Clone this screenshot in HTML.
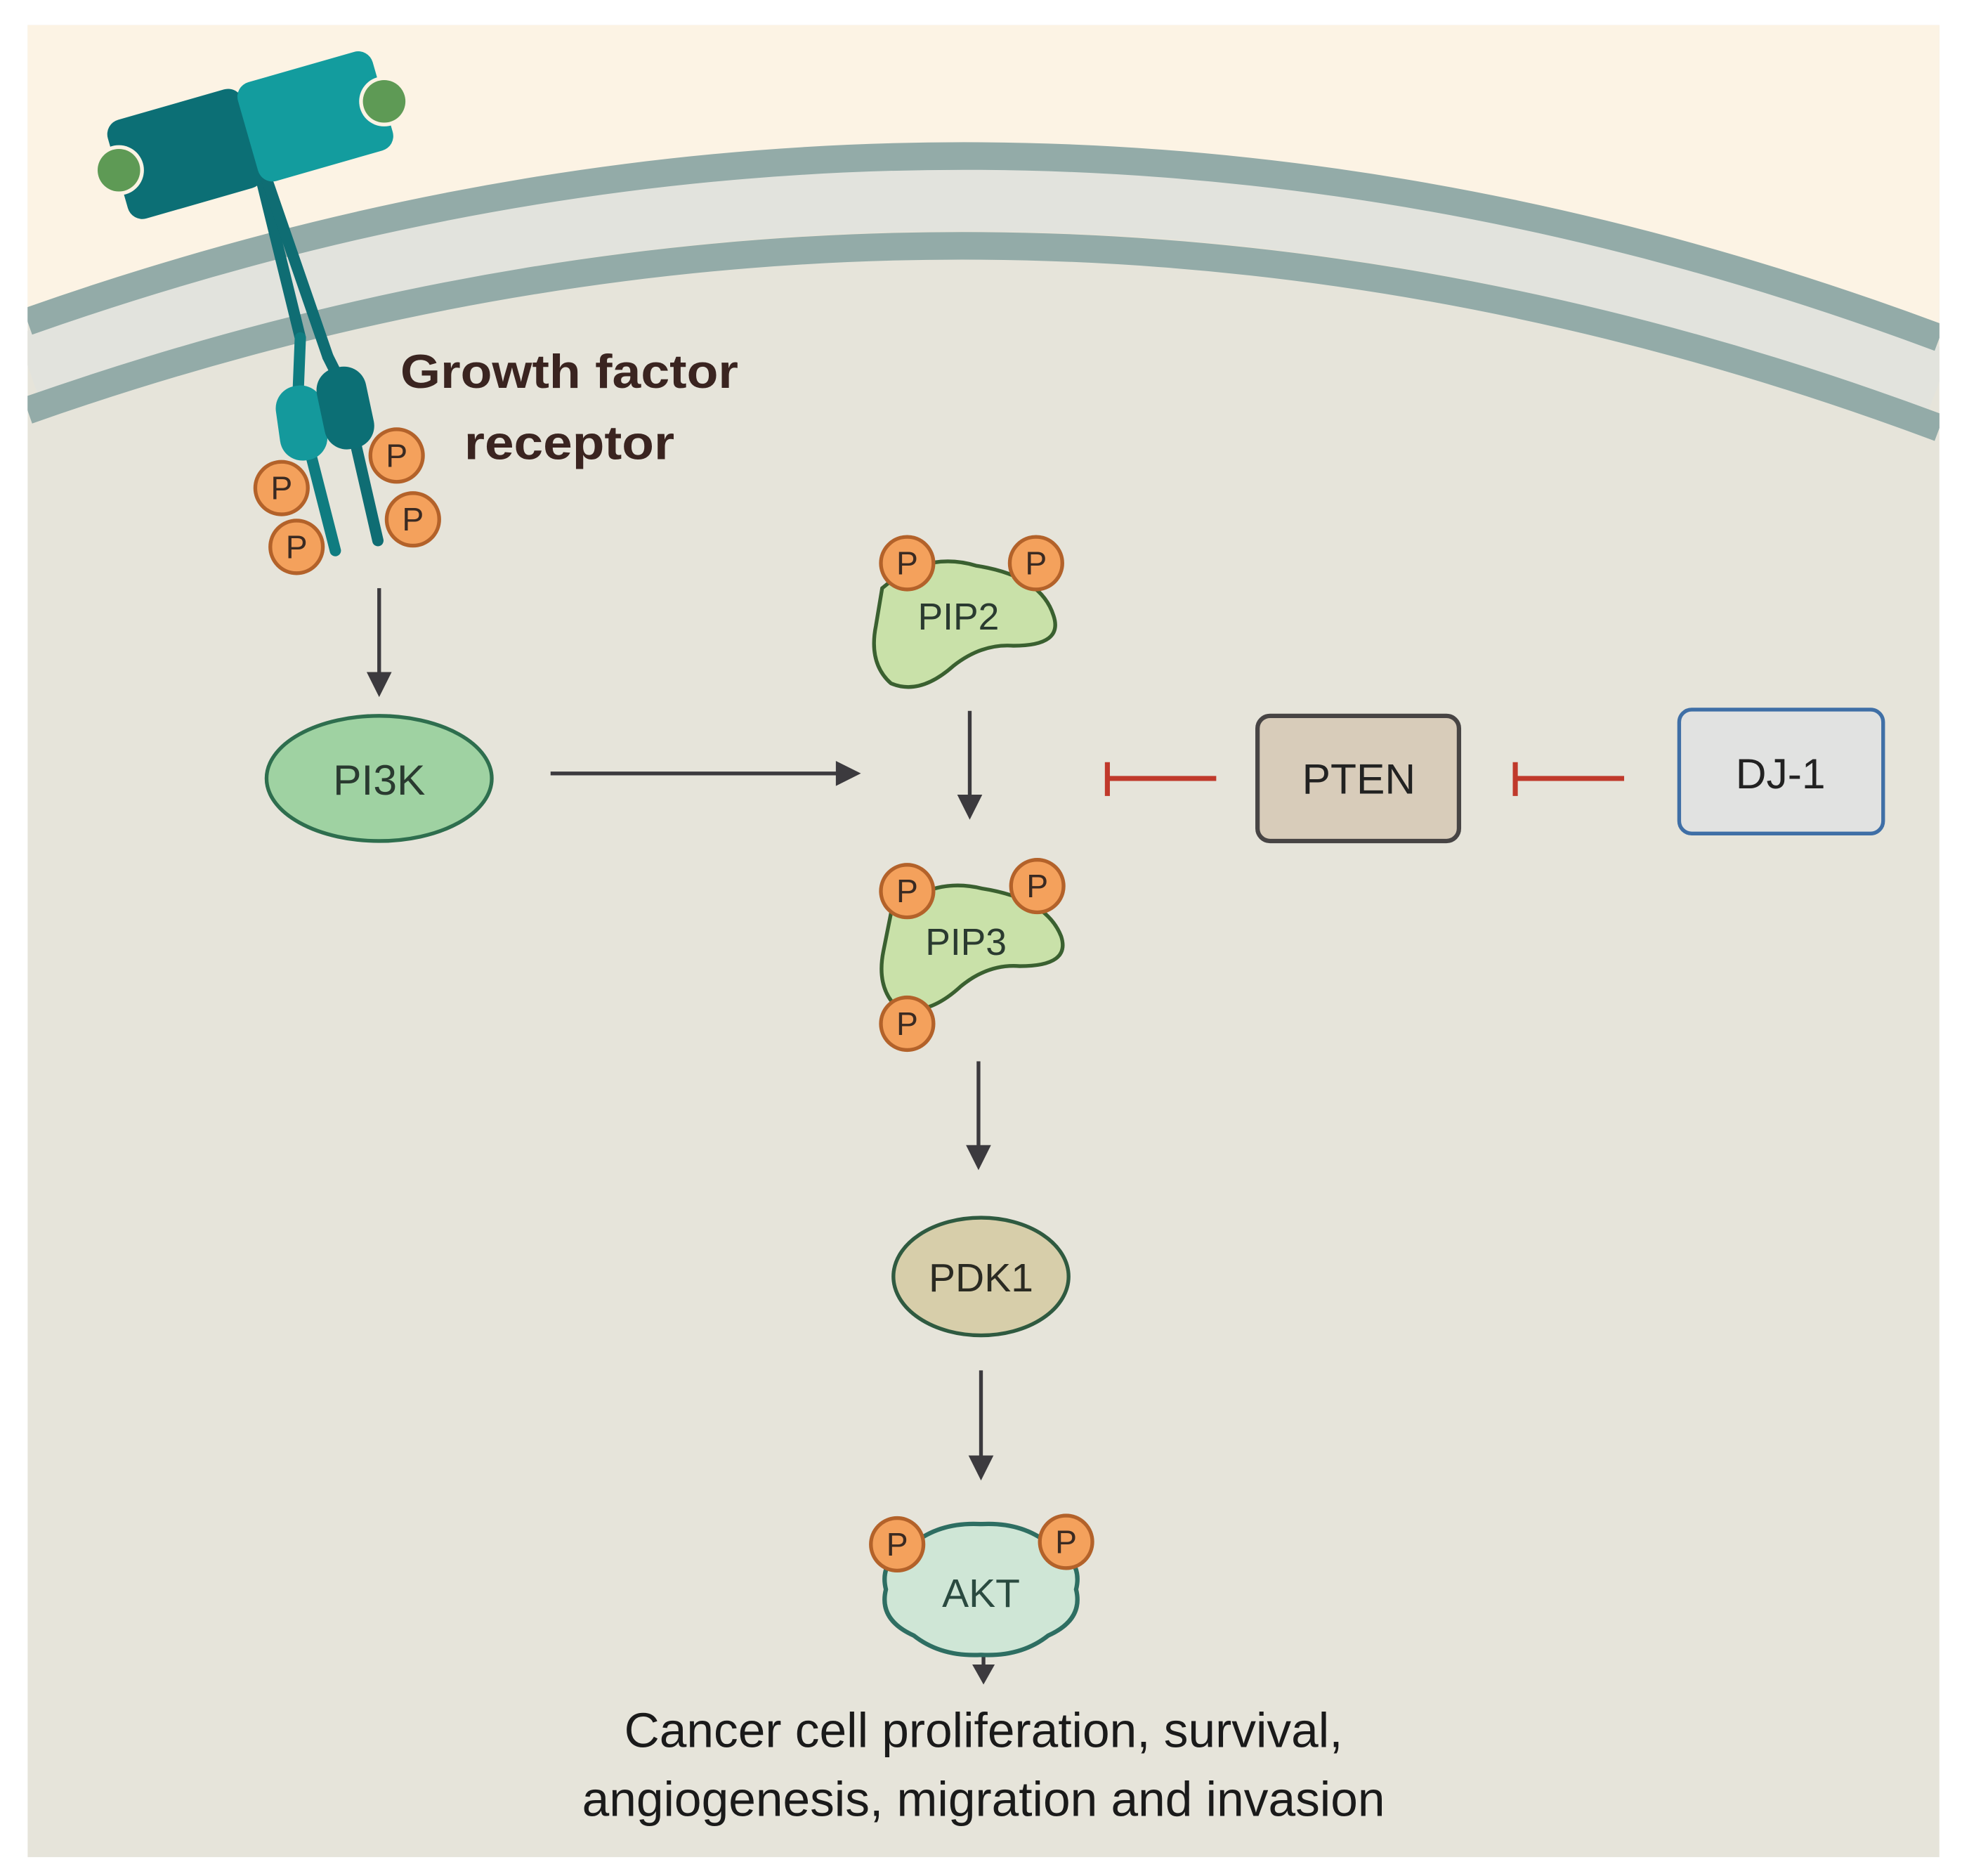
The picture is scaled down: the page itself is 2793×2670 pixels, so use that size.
<!DOCTYPE html>
<html><head><meta charset="utf-8"><style>
html,body{margin:0;padding:0;background:#fff;}
svg{display:block;}
text{font-family:"Liberation Sans",sans-serif;}
</style></head><body>
<svg width="2793" height="2670" viewBox="0 0 1568 1499" xmlns="http://www.w3.org/2000/svg">
<defs>
<clipPath id="pc"><rect x="22" y="20" width="1528" height="1464"/></clipPath>
</defs>
<rect x="0" y="0" width="1568" height="1499" fill="#ffffff"/>
<g clip-path="url(#pc)">
<rect x="22" y="20" width="1528" height="1464" fill="#e6e4da"/>
<path d="M22,20 L1550,20 L1550,262 Q790,-28 22,250 Z" fill="#fcf3e4"/>
<path d="M22,292 Q790,18 1550,305" fill="none" stroke="#e2e3dd" stroke-width="52"/>
<path d="M22,257 Q790,-14 1550,270" fill="none" stroke="#93aba8" stroke-width="22"/>
<path d="M22,328 Q790,58 1550,342" fill="none" stroke="#93aba8" stroke-width="22"/>
</g>

<!-- receptor -->
<g stroke-linecap="round">
<line x1="208" y1="140" x2="240" y2="270" stroke="#0f6d73" stroke-width="9"/>
<line x1="212" y1="140" x2="262" y2="285" stroke="#0f6d73" stroke-width="9"/>
<line x1="240" y1="270" x2="238" y2="320" stroke="#0f7c80" stroke-width="9"/>
<line x1="262" y1="285" x2="272" y2="305" stroke="#0f6d73" stroke-width="9"/>
<line x1="245" y1="350" x2="268" y2="440" stroke="#0f7c80" stroke-width="9"/>
<line x1="282" y1="345" x2="302" y2="432" stroke="#0f6d73" stroke-width="9"/>
</g>
<rect x="222" y="308" width="38" height="60" rx="18" fill="#14999c" transform="rotate(-8 241 338)"/>
<rect x="256" y="293" width="40" height="66" rx="18" fill="#0c6f75" transform="rotate(-12 276 326)"/>
<rect x="92" y="82" width="112" height="82" rx="12" fill="#0c6f75" transform="rotate(-16 148 123)"/>
<rect x="196" y="52" width="112" height="82" rx="12" fill="#139c9e" transform="rotate(-16 252 93)"/>
<circle cx="95" cy="136" r="20" fill="#fcf3e4"/>
<circle cx="95" cy="136" r="17" fill="#5e9a55"/>
<circle cx="307" cy="81" r="20" fill="#fcf3e4"/>
<circle cx="307" cy="81" r="17" fill="#5e9a55"/>

<g font-size="26" text-anchor="middle" fill="#3a2a22">
<circle cx="225" cy="390" r="21" fill="#f4a15c" stroke="#b3622a" stroke-width="3"/><text x="225" y="399">P</text>
<circle cx="237" cy="437" r="21" fill="#f4a15c" stroke="#b3622a" stroke-width="3"/><text x="237" y="446">P</text>
<circle cx="317" cy="364" r="21" fill="#f4a15c" stroke="#b3622a" stroke-width="3"/><text x="317" y="373">P</text>
<circle cx="330" cy="415" r="21" fill="#f4a15c" stroke="#b3622a" stroke-width="3"/><text x="330" y="424">P</text>
</g>
<text x="455" y="310" font-size="38" font-weight="bold" fill="#3a2420" text-anchor="middle" textLength="270" lengthAdjust="spacingAndGlyphs">Growth factor</text>
<text x="455" y="367" font-size="38" font-weight="bold" fill="#3a2420" text-anchor="middle" textLength="168" lengthAdjust="spacingAndGlyphs">receptor</text>

<!-- arrows -->
<g stroke="#3c3a3e" stroke-width="3" fill="#3c3a3e">
<line x1="303" y1="470" x2="303" y2="540"/><path d="M293,537 L313,537 L303,557 Z" stroke="none"/>
<line x1="440" y1="618" x2="672" y2="618"/><path d="M668,608 L668,628 L688,618 Z" stroke="none"/>
<line x1="775" y1="568" x2="775" y2="638"/><path d="M765,635 L785,635 L775,655 Z" stroke="none"/>
<line x1="782" y1="848" x2="782" y2="918"/><path d="M772,915 L792,915 L782,935 Z" stroke="none"/>
<line x1="784" y1="1095" x2="784" y2="1166"/><path d="M774,1163 L794,1163 L784,1183 Z" stroke="none"/>
<line x1="786" y1="1308" x2="786" y2="1332"/><path d="M777,1330 L795,1330 L786,1346 Z" stroke="none"/>
</g>

<ellipse cx="303" cy="622" rx="90" ry="50" fill="#9fd2a2" stroke="#2e6e4e" stroke-width="3"/>
<text x="303" y="635" font-size="34" text-anchor="middle" fill="#2a3a30">PI3K</text>

<path d="M705,470 Q740,440 780,452 Q832,460 842,492 Q850,516 810,516 Q785,514 762,532 Q735,556 712,546 Q694,530 700,500 Z" fill="#c9e1a9" stroke="#3a6030" stroke-width="3"/>
<text x="766" y="503" font-size="30" text-anchor="middle" fill="#2a3a30">PIP2</text>
<g font-size="26" text-anchor="middle" fill="#3a2a22">
<circle cx="725" cy="450" r="21" fill="#f4a15c" stroke="#b3622a" stroke-width="3"/><text x="725" y="459">P</text>
<circle cx="828" cy="450" r="21" fill="#f4a15c" stroke="#b3622a" stroke-width="3"/><text x="828" y="459">P</text>
</g>

<path d="M712,730 Q745,700 785,710 Q836,718 848,748 Q856,772 815,772 Q790,770 768,788 Q742,812 718,806 Q700,790 706,760 Z" fill="#c9e1a9" stroke="#3a6030" stroke-width="3"/>
<text x="772" y="763" font-size="30" text-anchor="middle" fill="#2a3a30">PIP3</text>
<g font-size="26" text-anchor="middle" fill="#3a2a22">
<circle cx="725" cy="712" r="21" fill="#f4a15c" stroke="#b3622a" stroke-width="3"/><text x="725" y="721">P</text>
<circle cx="829" cy="708" r="21" fill="#f4a15c" stroke="#b3622a" stroke-width="3"/><text x="829" y="717">P</text>
<circle cx="725" cy="818" r="21" fill="#f4a15c" stroke="#b3622a" stroke-width="3"/><text x="725" y="827">P</text>
</g>

<g stroke="#c0392b" stroke-width="4">
<line x1="885" y1="622" x2="972" y2="622"/><line x1="885" y1="609" x2="885" y2="636"/>
<line x1="1211" y1="622" x2="1298" y2="622"/><line x1="1211" y1="609" x2="1211" y2="636"/>
</g>

<rect x="1005" y="572" width="161" height="100" rx="10" fill="#d8ccba" stroke="#474444" stroke-width="3.5"/>
<text x="1086" y="634" font-size="34" text-anchor="middle" fill="#222">PTEN</text>
<rect x="1342" y="567" width="163" height="99" rx="10" fill="#e1e2e1" stroke="#3f6fa6" stroke-width="3"/>
<text x="1423" y="630" font-size="34" text-anchor="middle" fill="#222">DJ-1</text>

<ellipse cx="784" cy="1020" rx="70" ry="47" fill="#d7ceaa" stroke="#2f5a40" stroke-width="3"/>
<text x="784" y="1032" font-size="32" text-anchor="middle" fill="#2a2a22">PDK1</text>

<path d="M860,1270 Q866,1294.2 837.7,1306.9 Q816,1324 784,1322.3 Q752,1324 730.3,1306.9 Q702,1294.2 708,1270 Q702,1245.8 730.3,1233.1 Q752,1216 784,1217.8 Q816,1216 837.7,1233.1 Q866,1245.8 860,1270 Z" fill="#cfe6d6" stroke="#2e6e62" stroke-width="3.5"/>
<text x="784" y="1284" font-size="32" text-anchor="middle" fill="#2a4a40">AKT</text>
<g font-size="26" text-anchor="middle" fill="#3a2a22">
<circle cx="717" cy="1234" r="21" fill="#f4a15c" stroke="#b3622a" stroke-width="3"/><text x="717" y="1243">P</text>
<circle cx="852" cy="1232" r="21" fill="#f4a15c" stroke="#b3622a" stroke-width="3"/><text x="852" y="1241">P</text>
</g>

<text x="786" y="1396" font-size="39" text-anchor="middle" fill="#1a1a1a">Cancer cell proliferation, survival,</text>
<text x="786" y="1451" font-size="39" text-anchor="middle" fill="#1a1a1a">angiogenesis, migration and invasion</text>
</svg>
</body></html>
